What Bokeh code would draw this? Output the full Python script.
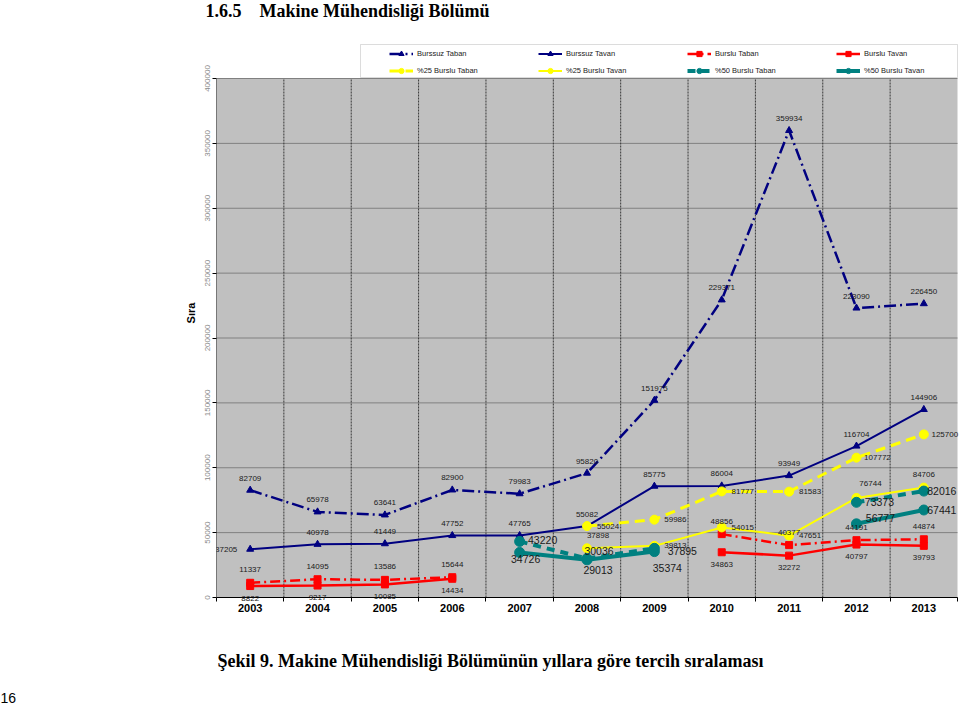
import math
from bokeh.plotting import figure
from bokeh.layouts import column
from bokeh.models import (ColumnDataSource, Range1d, FixedTicker, LabelSet, Title,
                          Legend, LegendItem, BoxAnnotation, NumeralTickFormatter)
from bokeh.core.properties import value
from bokeh.embed import file_html
from bokeh.resources import INLINE

# ---------------- data ----------------
years = [2003, 2004, 2005, 2006, 2007, 2008, 2009, 2010, 2011, 2012, 2013]
burssuz_taban = [82709, 65978, 63641, 82900, 79983, 95820, 151975, 229371, 359934, 223090, 226450]
burssuz_tavan = [37205, 40978, 41449, 47752, 47765, 55082, 85775, 86004, 93949, 116704, 144906]
burslu_taban = [11337, 14095, 13586, 15644, None, None, None, 48856, 40377, 44191, 44874]
burslu_tavan = [8822, 9217, 10085, 14434, None, None, None, 34863, 32272, 40797, 39793]
b25_taban = [None, None, None, None, None, 55024, 59986, 81777, 81583, 107772, 125700]
b25_tavan = [None, None, None, None, None, 37898, 39813, 54015, 47651, 76744, 84706]
b50_taban = [None, None, None, None, 43220, 30036, 37895, None, None, 73373, 82016]
b50_tavan = [None, None, None, None, 34726, 29013, 35374, None, None, 56777, 67441]
series_names = ["Burssuz Taban", "Burssuz Tavan", "Burslu Taban", "Burslu Tavan",
                "%25 Burslu Taban", "%25 Burslu Tavan", "%50 Burslu Taban", "%50 Burslu Tavan"]
y_ticks = [0, 50000, 100000, 150000, 200000, 250000, 300000, 350000, 400000]
y_title = "Sıra"
heading = "1.6.5 \u2002 Makine Mühendisliği Bölümü"
caption = "Şekil 9. Makine Mühendisliği Bölümünün yıllara göre tercih sıralaması"
page_no = "16"

# ---------------- layout (pixels, page coordinates) ----------------
W = 960
TOP_H = 24                  # heading strip
BOT_Y0, BOT_H = 640, 66     # caption strip
FRAME_L, FRAME_R, FRAME_T, FRAME_B = 216, 960, 24, 601
MAIN_H = BOT_Y0 - TOP_H
AREA_R, AREA_T, AREA_B = 957, 78, 597   # edges of the grey plot area
X0 = years[0] - 0.5
X1 = years[-1] + 0.5
x_per_px = (X1 - X0) / (AREA_R - FRAME_L)
y_per_px = (y_ticks[-1] - y_ticks[0]) / (AREA_B - AREA_T)


def px2x(px):
    return X0 + (px - FRAME_L) * x_per_px


def px2y(py):
    return (AREA_B - py) * y_per_px


# ---------------- styles ----------------
NAVY, RED, YEL, TEAL = "#000080", "#FF0000", "#FFFF00", "#008080"
SANS = "Liberation Sans"
SERIF = "Liberation Serif"
styles = [
    dict(vals=burssuz_taban, color=NAVY, dash="12 4 2 4", lw=2.5, marker="triangle", ms=7,
         fs="8px", off=[(0, 12)] * 11),
    dict(vals=burssuz_tavan, color=NAVY, dash="solid", lw=2, marker="triangle", ms=7,
         fs="8px", off=[(-24, 0)] + [(0, 12)] * 10),
    dict(vals=burslu_taban, color=RED, dash="10 4 2 4", lw=2.5, marker="square", ms=7,
         fs="8px", off=[(0, 13)] * 11),
    dict(vals=burslu_tavan, color=RED, dash="solid", lw=2.5, marker="square", ms=7,
         fs="8px", off=[(0, -12)] * 11),
    dict(vals=b25_taban, color=YEL, dash="10 6", lw=3, marker="circle", ms=9,
         fs="8px", off=[(21, 0)] * 11),
    dict(vals=b25_tavan, color=YEL, dash="solid", lw=2, marker="circle", ms=9,
         fs="8px", off=[(0, 0)] * 5 + [(11, 13), (21, 0), (21, 0), (21, 0), (14, 14), (0, 13)]),
    dict(vals=b50_taban, color=TEAL, dash="8 6", lw=4, marker="circle", ms=10,
         fs="10.5px", off=[(0, 0)] * 4 + [(23, 1), (12, 8), (28, -3), (0, 0), (0, 0), (23, 0), (18, 0)]),
    dict(vals=b50_tavan, color=TEAL, dash="solid", lw=4, marker="circle", ms=10,
         fs="10.5px", off=[(0, 0)] * 4 + [(6, -7), (11, -10), (13, -16), (0, 0), (0, 0), (24, 6), (18, 0)]),
]


def strip(height):
    f = figure(width=W, height=height, x_range=Range1d(0, 1), y_range=Range1d(0, 1),
               output_backend="svg", toolbar_location=None, title=None,
               min_border=0, min_border_left=FRAME_L, min_border_right=W - FRAME_R,
               min_border_top=0, min_border_bottom=0)
    f.axis.visible = False
    f.grid.visible = False
    f.outline_line_color = None
    f.background_fill_color = "white"
    f.border_fill_color = "white"
    return f


# ---------------- heading strip ----------------
top = strip(TOP_H)
top.add_layout(Title(text=heading, align="left", vertical_align="top", offset=205 - FRAME_L, standoff=0,
                     text_font=SERIF, text_font_style="bold", text_font_size="18px",
                     text_color="black"), "above")

# ---------------- main chart ----------------
p = figure(width=W, height=MAIN_H,
           x_range=Range1d(X0, px2x(FRAME_R)), y_range=Range1d(px2y(FRAME_B), px2y(FRAME_T)),
           output_backend="svg", toolbar_location=None, title=None,
           min_border_left=FRAME_L, min_border_right=W - FRAME_R,
           min_border_top=0, min_border_bottom=BOT_Y0 - FRAME_B)
p.background_fill_color = "white"
p.border_fill_color = "white"
p.outline_line_color = None
p.xgrid.visible = False
p.ygrid.visible = False

# grey plot area, its grid and axis lines
p.quad(left=X0, right=X1, bottom=y_ticks[0], top=y_ticks[-1], fill_color="#C0C0C0", line_color=None)
p.segment(x0=[X0] * len(y_ticks), x1=[X1] * len(y_ticks), y0=y_ticks, y1=y_ticks,
          line_color="#808080", line_width=1)
bounds = [y + 0.5 for y in years[:-1]]
p.segment(x0=bounds, x1=bounds, y0=[y_ticks[0]] * len(bounds), y1=[y_ticks[-1]] * len(bounds),
          line_color="#383838", line_width=1, line_dash="2 1")
p.segment(x0=[X0, X0], x1=[X0, X1], y0=[y_ticks[0], y_ticks[0]], y1=[y_ticks[-1], y_ticks[0]],
          line_color="black", line_width=1)

# axes
p.yaxis.ticker = FixedTicker(ticks=y_ticks)
p.yaxis.formatter = NumeralTickFormatter(format="0")
p.yaxis.major_label_orientation = "vertical"
p.yaxis.major_label_text_font = SANS
p.yaxis.major_label_text_font_size = "8px"
p.yaxis.major_label_text_color = "#8a8a8a"
p.yaxis.major_tick_out = 4
p.yaxis.major_tick_in = 0
p.yaxis.minor_tick_out = 0
p.yaxis.minor_tick_in = 0
p.yaxis.major_label_standoff = 3
p.yaxis.axis_line_color = None
p.yaxis.axis_label = y_title
p.yaxis.axis_label_text_font = SANS
p.yaxis.axis_label_text_font_style = "bold"
p.yaxis.axis_label_text_font_size = "11px"
p.yaxis.axis_label_text_color = "black"
p.yaxis.axis_label_standoff = 5

p.xaxis.ticker = FixedTicker(ticks=years, minor_ticks=[y - 0.5 for y in years] + [X1])
p.xaxis.major_tick_out = 0
p.xaxis.major_tick_in = 0
p.xaxis.minor_tick_out = 0
p.xaxis.minor_tick_in = 4
p.xaxis.minor_tick_line_color = "black"
p.xaxis.major_label_text_font = SANS
p.xaxis.major_label_text_font_style = "bold"
p.xaxis.major_label_text_font_size = "11px"
p.xaxis.major_label_text_color = "black"
p.xaxis.major_label_standoff = 2
p.xaxis.axis_line_color = None

# series
items = []
for name, st in zip(series_names, styles):
    ys = [float("nan") if v is None else v for v in st["vals"]]
    src = ColumnDataSource(dict(x=years, y=ys))
    lr = p.line("x", "y", source=src, line_color=st["color"], line_width=st["lw"], line_dash=st["dash"])
    sr = p.scatter("x", "y", source=src, marker=st["marker"], size=st["ms"],
                   fill_color=st["color"], line_color=st["color"])
    items.append(LegendItem(label=name, renderers=[lr, sr]))

# data labels
for st in styles:
    xs, ys, txt, dx, dy = [], [], [], [], []
    for yr, v, o in zip(years, st["vals"], st["off"]):
        if v is None:
            continue
        xs.append(yr); ys.append(v); txt.append(str(v)); dx.append(o[0]); dy.append(o[1])
    lsrc = ColumnDataSource(dict(x=xs, y=ys, t=txt, dx=dx, dy=dy))
    p.add_layout(LabelSet(x="x", y="y", text="t", source=lsrc, x_offset="dx", y_offset="dy",
                          text_align="center", text_baseline="middle", text_font=value(SANS),
                          text_font_size=value(st["fs"]), text_color="#1a1a1a"))

# legend box + legend (above the grey area, inside the frame)
p.add_layout(BoxAnnotation(left=px2x(360), right=px2x(957), top=px2y(44), bottom=px2y(77),
                           fill_color="white", fill_alpha=1, line_color="#8c8c8c", line_width=1))
legend = Legend(items=items, location=(389 - FRAME_L, FRAME_B - 77), orientation="horizontal", ncols=4,
                glyph_width=24, glyph_height=13, label_height=13, label_width=117,
                label_standoff=4, spacing=4, padding=0, margin=0,
                border_line_color=None, background_fill_alpha=0,
                label_text_font=SANS, label_text_font_size="7.5px", label_text_color="#222222")
p.add_layout(legend)

# ---------------- caption strip ----------------
bot = strip(BOT_H)
bot.add_layout(Title(text=caption, align="left", offset=217 - FRAME_L, standoff=17,
                     text_font=SERIF, text_font_style="bold", text_font_size="18px",
                     text_color="black"), "above")
bot.add_layout(Title(text=page_no, align="left", offset=-FRAME_L, standoff=7,
                     text_font=SANS, text_font_style="normal", text_font_size="14px",
                     text_color="black"), "below")

layout = column(top, p, bot, spacing=0)
open("out.html", "w").write(file_html(layout, INLINE))
